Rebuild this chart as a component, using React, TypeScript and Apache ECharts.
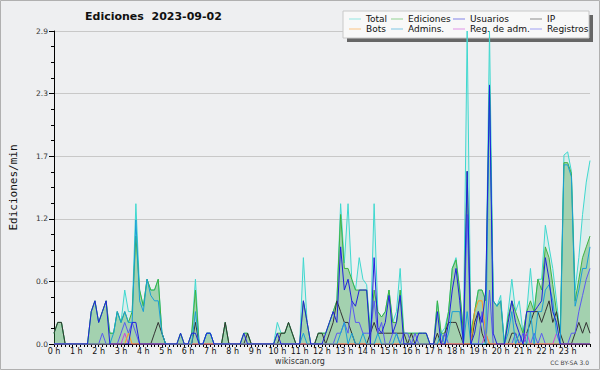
import React, { useEffect, useRef } from "react";
import * as echarts from "echarts";

const HOUR_LABELS = [
  "0 h", "1 h", "2 h", "3 h", "4 h", "5 h", "6 h", "7 h", "8 h", "9 h", "10 h", "11 h",
  "12 h", "13 h", "14 h", "15 h", "16 h", "17 h", "18 h", "19 h", "20 h", "21 h", "22 h", "23 h",
];

// 10-minute bins, edits per minute (145 points: 0h00 .. 24h00)
const TOTAL = [
  0.1, 0.2, 0.2, 0, 0, 0, 0, 0, 0, 0, 0.3, 0.4,
  0.2, 0.3, 0.4, 0.1, 0.1, 0.3, 0.2, 0.5, 0.3, 0.3, 1.3, 0.5,
  0.35, 0.6, 0.5, 0.5, 0.6, 0.1, 0, 0, 0, 0, 0.1, 0,
  0, 0.1, 0.6, 0, 0, 0.1, 0.1, 0, 0, 0, 0.2, 0,
  0, 0, 0, 0.1, 0.1, 0, 0, 0, 0, 0, 0, 0,
  0.2, 0.1, 0.1, 0.2, 0.1, 0, 0, 0.8, 0.2, 0, 0, 0.1,
  0.1, 0.1, 0.2, 0.3, 0.4, 1.3, 0.75, 1.3, 0.6, 0.5, 0.8, 0.6,
  0.55, 0.1, 1.3, 0.3, 0.25, 0.3, 0.5, 0.2, 0.3, 0.7, 0.1, 0.1,
  0.1, 0.1, 0.1, 0.1, 0.1, 0, 0, 0.4, 0.1, 0.15, 0.3, 0.7,
  0.8, 0.5, 0.1, 2.9, 0.1, 0.3, 0.5, 0.5, 0.4, 2.9, 0.4, 0.35,
  0.45, 0, 0.3, 0.6, 0.3, 0.4, 0.1, 0.3, 0.7, 0.3, 0.6, 0.6,
  1.1, 0.9, 0.7, 0.4, 0.1, 1.75, 1.78, 1.6, 0.5, 0.8, 1.2, 1.5,
  1.7,
];
const EDICIONES = [
  0.1, 0.2, 0.2, 0, 0, 0, 0, 0, 0, 0, 0.3, 0.4,
  0.2, 0.3, 0.4, 0.1, 0.1, 0.3, 0.2, 0.3, 0.2, 0.3, 1.0, 0.5,
  0.35, 0.6, 0.5, 0.5, 0.6, 0.1, 0, 0, 0, 0, 0.1, 0,
  0, 0.1, 0.5, 0, 0, 0.1, 0.1, 0, 0, 0, 0.2, 0,
  0, 0, 0, 0.1, 0.1, 0, 0, 0, 0, 0, 0, 0,
  0.1, 0.1, 0.1, 0.2, 0.1, 0, 0, 0.4, 0.2, 0, 0, 0.1,
  0.1, 0.1, 0.2, 0.3, 0.4, 1.2, 0.7, 0.7, 0.6, 0.5, 0.5, 0.5,
  0.5, 0.1, 0.5, 0.3, 0.25, 0.3, 0.5, 0.2, 0.2, 0.5, 0.1, 0.1,
  0.1, 0.1, 0.1, 0.1, 0.1, 0, 0, 0.4, 0.1, 0.1, 0.3, 0.7,
  0.78, 0.5, 0.1, 1.6, 0.1, 0.3, 0.5, 0.5, 0.4, 2.4, 0.4, 0.35,
  0.4, 0, 0.25, 0.4, 0.3, 0.2, 0.1, 0.3, 0.4, 0.3, 0.6, 0.5,
  0.9, 0.8, 0.55, 0.3, 0.1, 1.68, 1.68, 1.58, 0.4, 0.6, 0.8, 0.9,
  1.0,
];
const USUARIOS = [
  0, 0, 0, 0, 0, 0, 0, 0, 0, 0, 0.3, 0.4,
  0.2, 0.3, 0.4, 0, 0, 0, 0, 0, 0, 0.2, 0.2, 0,
  0, 0, 0, 0, 0, 0, 0, 0, 0, 0, 0.1, 0,
  0, 0.1, 0.1, 0, 0, 0.1, 0.1, 0, 0, 0, 0, 0,
  0, 0, 0, 0.1, 0, 0, 0, 0, 0, 0, 0, 0,
  0.1, 0, 0, 0, 0, 0, 0, 0.4, 0.2, 0, 0, 0,
  0, 0.1, 0.2, 0.3, 0.2, 0.9, 0.5, 0.6, 0.4, 0.35, 0.5, 0.5,
  0.5, 0, 0.8, 0.15, 0.1, 0.2, 0.45, 0.1, 0.2, 0.45, 0, 0,
  0, 0, 0.1, 0.1, 0.1, 0, 0, 0.3, 0, 0, 0.2, 0.5,
  0.7, 0.4, 0, 1.6, 0, 0.1, 0.3, 0.2, 0.5, 2.4, 0.1, 0,
  0, 0, 0.2, 0.4, 0.2, 0.1, 0, 0.3, 0.3, 0.3, 0.35, 0.4,
  0.8, 0.6, 0.3, 0.2, 0, 0, 0, 0, 0, 0, 0, 0,
  0,
];
const IP = [
  0.1, 0.2, 0.2, 0, 0, 0, 0, 0, 0, 0, 0, 0,
  0, 0, 0, 0, 0, 0, 0, 0, 0, 0, 0, 0,
  0, 0, 0, 0.1, 0.2, 0.1, 0, 0, 0, 0, 0, 0,
  0, 0, 0.2, 0, 0, 0, 0, 0, 0, 0, 0.2, 0,
  0, 0, 0, 0, 0.1, 0, 0, 0, 0, 0, 0, 0,
  0, 0.1, 0.1, 0.2, 0.1, 0, 0, 0, 0, 0, 0, 0.1,
  0.1, 0, 0.1, 0.2, 0.4, 0.3, 0.2, 0.2, 0.1, 0, 0, 0,
  0, 0.1, 0.2, 0.1, 0.1, 0.1, 0.1, 0.1, 0.1, 0.1, 0.1, 0,
  0.1, 0, 0, 0, 0, 0, 0, 0.1, 0, 0.1, 0.2, 0.2,
  0.2, 0.1, 0, 0, 0, 0.2, 0.3, 0.1, 0, 0, 0, 0,
  0, 0, 0, 0.1, 0.1, 0, 0, 0.1, 0.2, 0.3, 0.3, 0.2,
  0.3, 0.4, 0.2, 0.3, 0.1, 0, 0, 0, 0.1, 0.2, 0.1, 0.2,
  0.1,
];
const BOTS = [
  0, 0, 0, 0, 0, 0, 0, 0, 0, 0, 0, 0,
  0, 0, 0, 0, 0, 0, 0, 0, 0.1, 0, 0, 0,
  0, 0, 0, 0, 0, 0, 0, 0, 0, 0, 0, 0,
  0, 0, 0, 0, 0, 0, 0, 0, 0, 0, 0, 0,
  0, 0, 0, 0, 0, 0, 0, 0, 0, 0, 0, 0,
  0, 0, 0, 0, 0, 0, 0, 0, 0, 0, 0, 0,
  0, 0, 0, 0, 0, 0, 0, 0, 0, 0, 0, 0,
  0, 0, 0, 0, 0, 0, 0, 0, 0, 0, 0, 0,
  0, 0, 0, 0, 0, 0, 0, 0, 0, 0, 0, 0,
  0, 0, 0, 0, 0, 0.3, 0.4, 0.4, 0.1, 0, 0, 0,
  0, 0, 0, 0, 0, 0, 0, 0, 0, 0, 0, 0,
  0, 0, 0, 0, 0, 0, 0, 0, 0, 0, 0, 0,
  0,
];
const ADMINS = [
  0, 0, 0, 0, 0, 0, 0, 0, 0, 0, 0, 0,
  0, 0, 0, 0, 0.1, 0.3, 0.2, 0.3, 0.2, 0.2, 1.15, 0.4,
  0.3, 0.6, 0.45, 0.4, 0.4, 0.1, 0, 0, 0, 0, 0, 0,
  0, 0, 0.3, 0, 0, 0.1, 0.1, 0, 0, 0, 0, 0,
  0, 0, 0, 0, 0, 0, 0, 0, 0, 0, 0, 0,
  0, 0, 0, 0, 0, 0, 0, 0.1, 0, 0, 0, 0,
  0, 0, 0, 0, 0, 0.1, 0.2, 0, 0.1, 0, 0, 0.1,
  0, 0, 0, 0.1, 0, 0, 0, 0, 0.1, 0, 0, 0,
  0, 0, 0, 0, 0, 0, 0, 0, 0.1, 0, 0.1, 0.3,
  0.3, 0.3, 0, 0.3, 0, 0, 0, 0, 0, 2.35, 0.4, 0.35,
  0.4, 0, 0.1, 0.3, 0, 0.1, 0, 0, 0.3, 0, 0.3, 0.3,
  0.5, 0.55, 0.4, 0.1, 0, 1.66, 1.66, 1.55, 0.35, 0.5, 0.7, 0.7,
  0.9,
];
const REG_ADM = [
  0, 0, 0, 0, 0, 0, 0, 0, 0, 0, 0, 0,
  0, 0, 0, 0, 0, 0, 0, 0.1, 0, 0, 0, 0,
  0, 0, 0, 0, 0, 0, 0, 0, 0, 0, 0, 0,
  0, 0, 0, 0, 0, 0, 0, 0, 0, 0, 0, 0,
  0, 0, 0, 0, 0, 0, 0, 0, 0, 0, 0, 0,
  0, 0, 0, 0, 0, 0, 0, 0, 0, 0, 0, 0,
  0, 0, 0, 0, 0, 0, 0, 0, 0, 0, 0, 0,
  0, 0, 0, 0, 0, 0, 0, 0, 0, 0, 0, 0,
  0, 0, 0, 0, 0, 0, 0, 0, 0, 0, 0, 0,
  0, 0, 0, 0, 0, 0, 0, 0, 0.1, 0, 0, 0,
  0, 0, 0, 0, 0, 0, 0, 0.1, 0, 0, 0, 0,
  0, 0, 0, 0.1, 0, 0, 0, 0, 0, 0, 0, 0,
  0,
];
const REGISTROS = [
  0, 0, 0, 0, 0, 0, 0, 0, 0, 0, 0, 0,
  0, 0.1, 0, 0, 0, 0, 0.1, 0.2, 0.1, 0.2, 0.1, 0,
  0, 0, 0, 0, 0, 0, 0, 0, 0, 0, 0, 0,
  0, 0, 0, 0, 0, 0, 0, 0, 0, 0, 0, 0,
  0, 0, 0, 0, 0, 0, 0, 0, 0, 0, 0, 0,
  0, 0, 0, 0, 0, 0, 0, 0, 0, 0, 0, 0,
  0, 0, 0, 0, 0.1, 0.1, 0.2, 0.1, 0.4, 0.2, 0.2, 0.1,
  0.1, 0.1, 0.4, 0.1, 0.2, 0, 0, 0.1, 0.1, 0, 0.1, 0.1,
  0, 0.1, 0, 0, 0, 0, 0, 0, 0, 0.1, 0, 0,
  0, 0, 0, 1.2, 0, 0, 0, 0.3, 0, 0.5, 0, 0,
  0, 0, 0, 0, 0.1, 0, 0.1, 0, 0, 0.1, 0, 0.1,
  0, 0, 0, 0, 0, 0, 0, 0.1, 0.1, 0.3, 0.45, 0.6,
  0.7,
];

const FONT = "DejaVu Sans";

export default function App() {
  const ref = useRef<HTMLDivElement>(null);

  useEffect(() => {
    if (!ref.current) return;
    const chart = echarts.init(ref.current, null, { renderer: "svg" });
    const pts = (arr: number[]) => arr.map((v, i) => [i / 6, v]);
    const line = (name: string, data: number[], color: string, extra: any = {}) => ({
      name,
      type: "line",
      data: pts(data),
      showSymbol: false,
      symbol: "none",
      lineStyle: { width: 1, color },
      itemStyle: { color },
      emphasis: { disabled: true },
      ...extra,
    });
    const legendCommon = {
      orient: "vertical",
      top: 14,
      icon: "rect",
      itemWidth: 12,
      itemHeight: 1,
      itemGap: 0,
      padding: 0,
      selectedMode: false,
      itemStyle: { opacity: 0.55 },
      textStyle: { fontFamily: FONT, fontSize: 9, color: "#111", lineHeight: 10 },
    };

    chart.setOption({
      animation: false,
      backgroundColor: "#eeeff1",
      title: {
        text: "Ediciones  2023-09-02",
        left: 85,
        top: 11,
        padding: 0,
        textStyle: { fontFamily: FONT, fontWeight: "bold", fontSize: 11, color: "#111" },
      },
      legend: [
        { ...legendCommon, left: 349, data: ["Total", "Bots"] },
        { ...legendCommon, left: 391, data: ["Ediciones", "Admins."] },
        { ...legendCommon, left: 453, data: ["Usuarios", "Reg. de adm."] },
        { ...legendCommon, left: 530, data: ["IP", "Registros"] },
      ],
      grid: { left: 45, right: 10, top: 31, bottom: 26 },
      xAxis: {
        type: "value",
        min: 0,
        max: 24,
        interval: 1,
        axisLine: { lineStyle: { color: "#000", width: 1 } },
        axisTick: { length: 3, lineStyle: { color: "#000" } },
        minorTick: { show: true, splitNumber: 6, length: 3, lineStyle: { color: "#000" } },
        splitLine: { show: false },
        axisLabel: {
          margin: 3,
          fontFamily: FONT,
          fontSize: 8,
          color: "#111",
          formatter: (v: number) => HOUR_LABELS[Math.round(v)] ?? "",
        },
      },
      yAxis: {
        type: "value",
        min: 0,
        max: 2.9,
        interval: 0.58,
        name: "Ediciones/min",
        nameLocation: "middle",
        nameGap: 35,
        nameRotate: 90,
        nameTextStyle: { fontFamily: "DejaVu Sans Mono", fontSize: 11, color: "#111" },
        axisLine: { show: true, lineStyle: { color: "#000", width: 1 } },
        axisTick: { show: true, length: 5, lineStyle: { color: "#000" } },
        minorTick: { show: true, splitNumber: 4, length: 3, lineStyle: { color: "#000" } },
        splitLine: { show: true, lineStyle: { color: "#c8c8c8", width: 1 } },
        axisLabel: {
          margin: 6,
          fontFamily: FONT,
          fontSize: 7.5,
          color: "#333",
          formatter: (v: number) => v.toFixed(1),
        },
      },
      series: [
        line("Total", TOTAL, "#3fd8cf", { areaStyle: { color: "rgba(64,224,200,0.15)" } }),
        line("Ediciones", EDICIONES, "#3fb23f", { areaStyle: { color: "rgba(40,150,40,0.45)" } }),
        line("IP", IP, "#333333"),
        line("Registros", REGISTROS, "#5a5af0"),
        line("Reg. de adm.", REG_ADM, "#cc44dd"),
        line("Bots", BOTS, "#ff9922"),
        line("Admins.", ADMINS, "#1a9fd6"),
        line("Usuarios", USUARIOS, "#2020dd"),
      ],
      graphic: [
        {
          type: "rect",
          z: 3,
          silent: true,
          shape: { x: 347, y: 15, width: 246, height: 27 },
          style: { fill: "#666666" },
        },
        {
          type: "rect",
          z: 3,
          silent: true,
          shape: { x: 343, y: 11, width: 246, height: 27 },
          style: { fill: "#f8f8f8", stroke: "#c8c8c8", lineWidth: 1 },
        },
        {
          type: "text",
          z: 3,
          x: 300,
          y: 361,
          style: {
            text: "wikiscan.org",
            font: `8px "${FONT}"`,
            fill: "#333",
            align: "center",
            verticalAlign: "middle",
            textAlign: "center",
            textVerticalAlign: "middle",
          },
        },
        {
          type: "text",
          z: 3,
          x: 589,
          y: 362.5,
          style: {
            text: "CC BY-SA 3.0",
            font: `6px "${FONT}"`,
            fill: "#444",
            align: "right",
            verticalAlign: "middle",
            textAlign: "right",
            textVerticalAlign: "middle",
          },
        },
        {
          type: "rect",
          z: 10,
          silent: true,
          shape: { x: 0.5, y: 0.5, width: 599, height: 369 },
          style: { fill: "none", stroke: "#b0b0b0", lineWidth: 1 },
        },
      ],
    });

    return () => chart.dispose();
  }, []);

  return (
    <div
      ref={ref}
      style={{ position: "fixed", left: 0, top: 0, width: 600, height: 370 }}
    />
  );
}
